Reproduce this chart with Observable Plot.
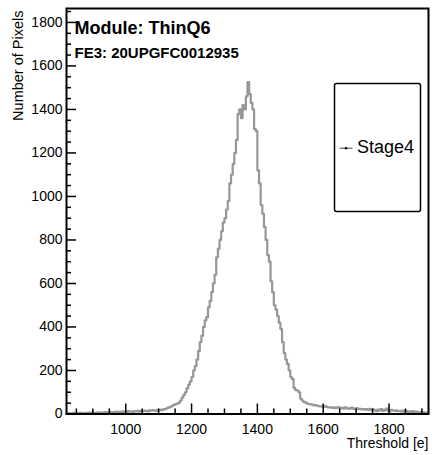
<!DOCTYPE html>
<html><head><meta charset="utf-8">
<script src="https://cdn.jsdelivr.net/npm/d3@7"></script>
<script src="https://cdn.jsdelivr.net/npm/@observablehq/plot@0.6"></script>
<style>body{margin:0;background:#fff} #chart{position:absolute;left:0;top:0}</style>
</head><body><div id="chart"></div>
<script>
// Histogram bins (lower edges, width 5 e) and counts
const binWidth = 5;
const binLow = d3.range(820, 1920, binWidth);
const counts = [
  2,4,3,1,5,3,4,2,6,3,4,5,3,6,4,7,5,4,6,8,
  6,7,5,9,8,6,10,7,9,8,11,9,10,8,12,10,9,13,11,12,
  10,13,12,14,11,15,13,16,14,12,17,15,18,16,14,19,17,20,18,22,
  24,28,30,34,38,42,45,48,52,62,75,88,100,118,135,150,170,200,220,250,
  290,330,360,400,430,445,490,520,560,600,640,720,760,800,840,880,900,940,980,1060,
  1100,1150,1200,1260,1380,1400,1360,1420,1400,1460,1526,1470,1430,1400,1310,1300,1120,1060,960,920,
  860,800,730,700,610,560,500,480,450,420,390,330,280,250,230,200,170,160,120,110,
  108,100,70,62,55,52,48,46,44,43,40,41,38,36,35,34,33,36,32,30,
  31,28,30,27,29,32,26,28,25,30,27,24,26,29,23,25,27,22,24,21,
  23,20,22,19,24,18,21,17,13,20,16,22,14,18,25,15,12,19,16,14,
  17,13,15,12,16,11,14,10,12,9,13,8,11,10,7,9,6,8,5,7
];
const xMajor = [1000, 1200, 1400, 1600, 1800];
const xMinor = [850, 900, 950, 1050, 1100, 1150, 1250, 1300, 1350, 1450, 1500, 1550, 1650, 1700, 1750, 1850, 1900];
const yMajor = [0, 200, 400, 600, 800, 1000, 1200, 1400, 1600, 1800];
const yMinor = [50,100,150,250,300,350,450,500,550,650,700,750,850,900,950,1050,1100,1150,1250,1300,1350,1450,1500,1550,1650,1700,1750,1850];
const xDomain = [820, 1920];
const yDomain = [0, 1864];
const seriesName = "Stage4";
const title1 = "Module: ThinQ6";
const title2 = "FE3: 20UPGFC0012935";
const xTitle = "Threshold [e]";
const yTitle = "Number of Pixels";

const pts = binLow.map((x, i) => ({x, y: counts[i]}));
pts.push({x: binLow[binLow.length - 1] + binWidth, y: counts[counts.length - 1]});

const W = 432, H = 455, mL = 66, mR = 4, mT = 8, mB = 41.5;
const pw = W - mL - mR, ph = H - mT - mB;
const font = "'Liberation Sans', Arial, Helvetica, sans-serif";

const chart = Plot.plot({
  width: W, height: H,
  marginLeft: mL, marginRight: mR, marginTop: mT, marginBottom: mB,
  style: {fontFamily: font, fontSize: "14px", color: "black", background: "white", overflow: "visible"},
  x: {domain: xDomain},
  y: {domain: yDomain},
  marks: [
    Plot.lineY(pts, {x: "x", y: "y", curve: "step-after", stroke: "#979797", strokeWidth: 2.2}),
    Plot.tickX(xMajor, {x: d => d, insetTop: ph - 10, stroke: "black", strokeWidth: 1.5}),
    Plot.tickX(xMinor, {x: d => d, insetTop: ph - 5, stroke: "black", strokeWidth: 1.5}),
    Plot.tickY(yMajor, {y: d => d, insetRight: pw - 10, stroke: "black", strokeWidth: 1.5}),
    Plot.tickY(yMinor, {y: d => d, insetRight: pw - 5, stroke: "black", strokeWidth: 1.5}),
    Plot.axisX(xMajor, {tickSize: 0, tickPadding: 10, label: null, tickFormat: d => String(d), fontSize: 14}),
    Plot.axisY(yMajor, {tickSize: 0, tickPadding: 4, label: null, tickFormat: d => String(d), fontSize: 14}),
    Plot.frame({stroke: "black", strokeWidth: 2}),
    Plot.text([xTitle], {text: d => d, frameAnchor: "bottom-right", dy: 30, textAnchor: "end", lineAnchor: "middle", fontSize: 14}),
    Plot.text([yTitle], {text: d => d, frameAnchor: "top-left", dx: -48, dy: 2, rotate: -90, textAnchor: "end", lineAnchor: "middle", fontSize: 14.5}),
    Plot.text([title1], {text: d => d, frameAnchor: "top-left", dx: 8, dy: 25, textAnchor: "start", lineAnchor: "bottom", fontSize: 18, fontWeight: "bold"}),
    Plot.text([title2], {text: d => d, frameAnchor: "top-left", dx: 8, dy: 49, textAnchor: "start", lineAnchor: "bottom", fontSize: 15, fontWeight: "bold"}),
    // legend box
    Plot.frame({insetLeft: 268, insetRight: 8, insetTop: 75, insetBottom: 202.5, stroke: "black", strokeWidth: 1.5, rx: 2, fill: "white"}),
    Plot.frame({insetLeft: 273, insetRight: 76, insetTop: 139.2, insetBottom: 265.3, fill: "#444", stroke: "none"}),
    Plot.dot([seriesName], {frameAnchor: "top-left", dx: 279.5, dy: 139.7, r: 1.3, fill: "black", stroke: "none"}),
    Plot.text([seriesName], {text: d => d, frameAnchor: "top-left", dx: 290.5, dy: 144.7, textAnchor: "start", lineAnchor: "bottom", fontSize: 18})
  ]
});
document.getElementById("chart").appendChild(chart);
</script>
</body></html>
